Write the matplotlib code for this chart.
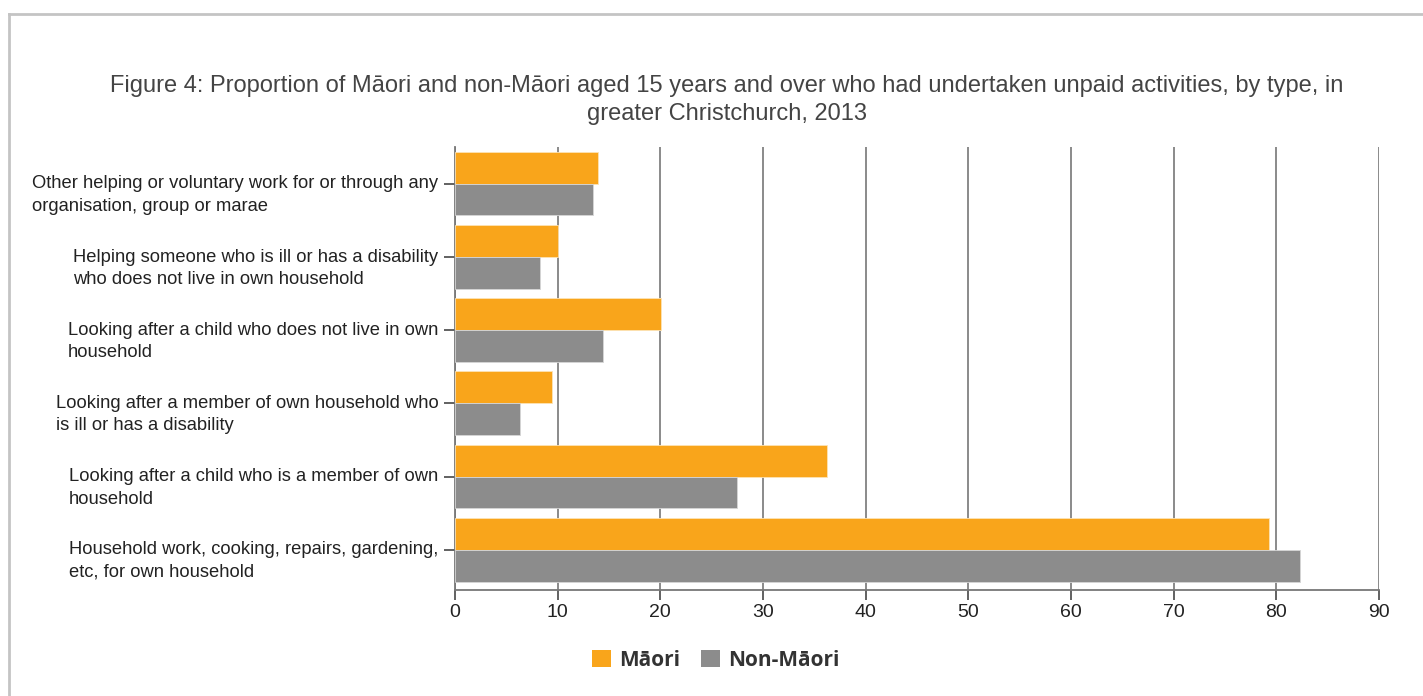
import numpy as np
import matplotlib.pyplot as plt
from matplotlib.patches import Patch
from matplotlib.lines import Line2D

categories = [
    "Other helping or voluntary work for or through any\norganisation, group or marae",
    "Helping someone who is ill or has a disability\nwho does not live in own household",
    "Looking after a child who does not live in own\nhousehold",
    "Looking after a member of own household who\nis ill or has a disability",
    "Looking after a child who is a member of own\nhousehold",
    "Household work, cooking, repairs, gardening,\netc, for own household",
]
maori = [13.9, 10.0, 20.1, 9.4, 36.2, 79.3]
non_maori = [13.4, 8.3, 14.4, 6.3, 27.5, 82.3]
xticks = [0, 10, 20, 30, 40, 50, 60, 70, 80, 90]

orange = "#F9A51B"
grey = "#8C8C8C"

plt.rcParams['font.family'] = ['Liberation Sans', 'DejaVu Sans']

fig = plt.figure(figsize=(14.23, 6.96), dpi=100)
ax = fig.add_axes([455/1423, 1-590/696, (1379-455)/1423, (590-147)/696])

y = np.arange(len(categories))
h = 0.435
ax.barh(y - h/2, maori, height=h, color=orange, edgecolor="#fde3b5", linewidth=0.6, zorder=3)
ax.barh(y + h/2, non_maori, height=h, color=grey, edgecolor="#d6d6d6", linewidth=0.6, zorder=3)

ax.set_ylim(len(categories) - 0.45, -0.5)
ax.set_xlim(0, 90)
ax.set_xticks(xticks)
ax.set_yticks(y)
ax.set_yticklabels([])
# category labels: first line level with the tick, block right-aligned
for yi, lab in zip(y, categories):
    ax.annotate(lab, xy=(0, yi), xycoords=("axes fraction", "data"),
                xytext=(-12, 6), textcoords="offset points",
                ha="right", va="top", multialignment="left",
                fontsize=13.2, color="#222222", linespacing=1.42)
ax.tick_params(axis="x", labelsize=14, colors="#555555", labelcolor="#222222", length=7, width=1.3, pad=3)
ax.tick_params(axis="y", colors="#555555", length=8, width=1.3)
ax.grid(axis="x", color="#777777", linewidth=1.2, zorder=0)
for s in ["top", "right"]:
    ax.spines[s].set_visible(False)
for s in ["left", "bottom"]:
    ax.spines[s].set_color("#777777")
    ax.spines[s].set_linewidth(1.3)

fig.text(727/1423, 1-100/696,
         "Figure 4: Proportion of Māori and non-Māori aged 15 years and over who had undertaken unpaid activities, by type, in\ngreater Christchurch, 2013",
         ha="center", va="center", fontsize=17, color="#444444", linespacing=1.32)

handles = [Patch(facecolor=orange, edgecolor="none"), Patch(facecolor=grey, edgecolor="none")]
fig.legend(handles, ["Māori", "Non-Māori"], loc="center", bbox_to_anchor=(716/1423, 1-660/696),
           ncol=2, frameon=False, handlelength=0.9, handleheight=0.9, handletextpad=0.4,
           columnspacing=1.0, prop={"family": "Open Sans", "weight": "bold", "size": 15},
           labelcolor="#333333")

# light frame around the chart container
fig.add_artist(Line2D([9/1423, 9/1423], [0, 1-14/696], color="#c4c4c4", linewidth=2, transform=fig.transFigure))
fig.add_artist(Line2D([9/1423, 1], [1-14/696, 1-14/696], color="#c4c4c4", linewidth=2, transform=fig.transFigure))

fig.savefig("out.png", dpi=100)
